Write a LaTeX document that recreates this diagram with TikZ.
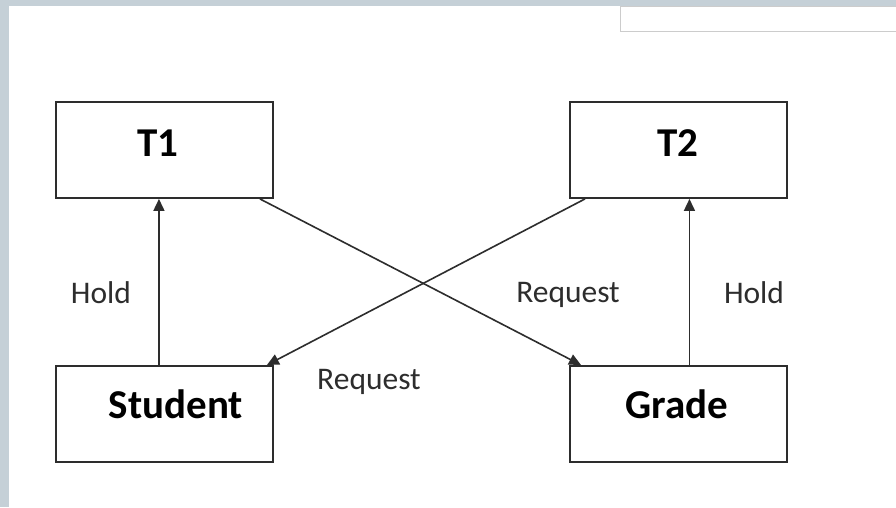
\documentclass[tikz,border=0pt]{standalone}
\usepackage{fontspec}
\setmainfont{Carlito}
\usetikzlibrary{arrows.meta}
\definecolor{band}{RGB}{197,208,215}
\definecolor{linec}{RGB}{45,45,45}
\definecolor{labc}{RGB}{45,45,45}
\tikzset{
  box/.style={draw=linec, line width=1.9pt, fill=white, minimum width=217pt, minimum height=96pt, inner sep=0pt, anchor=north west},
  boxtext/.style={font=\fontsize{41}{44}\selectfont\bfseries, text=black, inner sep=0pt},
  lab/.style={font=\fontsize{31.5}{34}\selectfont, text=labc, inner sep=0pt},
  arr/.style={draw=linec, line width=1.6pt, -{Triangle[length=12pt,width=11pt]}}
}
\begin{document}
\begin{tikzpicture}[x=1pt,y=1pt]
\useasboundingbox (0,0) rectangle (896,-507);
\fill[white] (0,0) rectangle (896,-507);
\fill[band] (0,0) rectangle (896,-6);
\fill[band] (0,0) rectangle (9,-507);
\node[draw=black!20, line width=1pt, fill=white, minimum width=277pt, minimum height=25pt, anchor=north west, inner sep=0pt] (topbox) at (620,-6) {};
\node[box] (t1) at (55,-101) {};
\node[box] (t2) at (569,-101) {};
\node[box] (student) at (55,-365) {};
\node[box] (grade) at (569,-365) {};
\node[boxtext] (t1t) at (158,-143) {T1};
\node[boxtext] (t2t) at (678,-143) {T2};
\node[boxtext] (studentt) at (176,-404) {Student};
\node[boxtext] (gradet) at (677,-404) {Grade};
\draw[arr] ([xshift=-5.5pt]student.north) -- ([xshift=-5.5pt]t1.south);
\draw[arr] ([xshift=11pt]grade.north) -- ([xshift=11pt]t2.south);
\draw[arr] ([xshift=-14pt]t1.south east) -- ([xshift=12pt]grade.north west);
\draw[arr] ([xshift=16pt]t2.south west) -- ([xshift=-7pt]student.north east);
\node[lab] (hold1) at (101,-293) {Hold};
\node[lab] (req1) at (568,-295) {Request};
\node[lab] (hold2) at (754,-293) {Hold};
\node[lab] (req2) at (369,-382) {Request};
\end{tikzpicture}
\end{document}
